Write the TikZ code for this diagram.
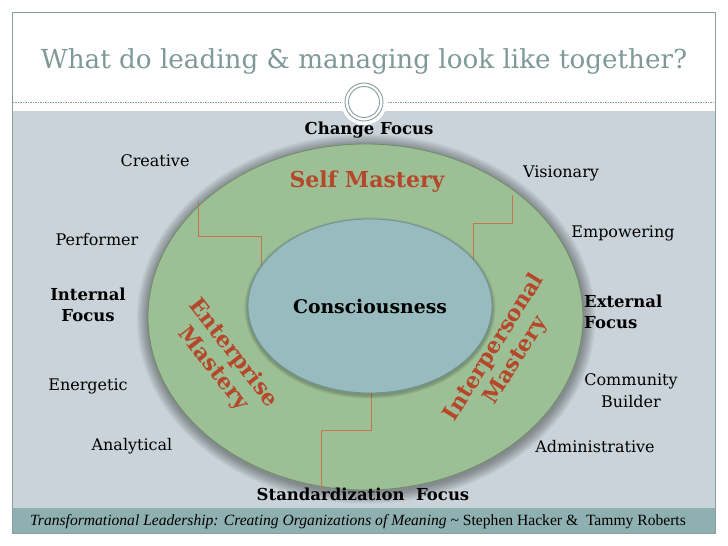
\documentclass[tikz,border=0pt]{standalone}
\usepackage{fontspec}
\setmainfont{DejaVu Serif}
\newfontfamily\footfont{Liberation Serif}
\definecolor{bandgray}{HTML}{C9D3D9}
\definecolor{footteal}{HTML}{8FB0B0}
\definecolor{framecol}{HTML}{8A9E9E}
\definecolor{titlecol}{HTML}{7F9997}
\definecolor{ringgreen}{HTML}{9DBF95}
\definecolor{ringedge}{HTML}{6E8C69}
\definecolor{corefill}{HTML}{97BBBF}
\definecolor{coreedge}{HTML}{6F9094}
\definecolor{rust}{HTML}{B5472A}
\definecolor{stepline}{HTML}{C27650}
\tikzset{
  lbl/.style={font=\fontsize{16}{22}\selectfont, text=black, align=center, inner sep=0pt},
  blbl/.style={font=\fontsize{16.5}{21.5}\selectfont\bfseries, text=black, align=center, inner sep=0pt},
  mastery/.style={font=\fontsize{22}{25}\selectfont\bfseries, text=rust, align=center, inner sep=0pt},
  stepl/.style={draw=stepline, line width=0.9pt}
}
\begin{document}
\begin{tikzpicture}[x=1pt,y=-1pt]
\useasboundingbox (0,0) rectangle (728,546);
\fill[white] (0,0) rectangle (728,546);
% bands
\fill[bandgray] (12.5,111) rectangle (715,508);
\fill[footteal] (12.5,508) rectangle (715,533);
\draw[framecol, line width=0.9pt] (12.5,12.5) rectangle (715,533);
\draw[framecol, dash pattern=on 1.5pt off 1pt, line width=0.6pt] (12.5,102) -- (715,102);
% ornament
\fill[white] (364,102) circle (23pt);
\draw[framecol, line width=0.9pt] (364,102) circle (19pt);
\draw[framecol, line width=0.9pt] (364,102) circle (15.5pt);
% title
\node[font=\fontsize{26.2}{30}\selectfont, text=titlecol, inner sep=0pt] (title) at (364,61) {What do leading \& managing look like together?};
% outer ring shadow
\foreach \i in {1,...,9}{
  \fill[black, opacity=0.045] (366,319) ellipse [x radius={217.5pt+\i*1.3pt}, y radius={173pt+\i*1.3pt}];
}
\fill[ringgreen, draw=ringedge, line width=0.8pt] (365.5,317) ellipse [x radius=217.5pt, y radius=173pt];
% steps
\draw[stepl] (198,201) -- (198,236) -- (261,236) -- (261,266);
\draw[stepl] (512,195) -- (512,223) -- (473,223) -- (473,267);
\draw[stepl] (371,392) -- (371,430) -- (321,430) -- (321,490);
% inner shadow
\foreach \i in {1,...,4}{
  \fill[black, opacity=0.06] (370,308) ellipse [x radius={122pt+\i*0.9pt}, y radius={87pt+\i*0.9pt}];
}
\fill[corefill, draw=coreedge, line width=0.8pt] (370,306) ellipse [x radius=122pt, y radius=87pt];
% center labels
\node[font=\fontsize{18.8}{22}\selectfont\bfseries, inner sep=0pt] (core) at (370,306) {Consciousness};
\node[mastery] (self) at (367,182) {Self Mastery};
\node[mastery, rotate=-52] (ent) at (223,361) {Enterprise\\Mastery};
\node[mastery, rotate=58] (inter) at (505,354) {Interpersonal\\Mastery};
% focus labels
\node[blbl] (change) at (369,130) {Change Focus};
\node[blbl] (std) at (363,494) {Standardization\ \ Focus};
\node[blbl] (internal) at (88,305) {Internal\\Focus};
\node[blbl, align=left, anchor=west] (external) at (584,312) {External\\Focus};
% trait labels
\node[lbl] (creative) at (155,161) {Creative};
\node[lbl] (performer) at (97,240) {Performer};
\node[lbl] (energetic) at (88,386) {Energetic};
\node[lbl] (analytical) at (132,446) {Analytical};
\node[lbl] (visionary) at (561,173) {Visionary};
\node[lbl] (empowering) at (623,233) {Empowering};
\node[lbl] (community) at (631,391) {Community\\Builder};
\node[lbl] (admin) at (595,447) {Administrative};
% footer
\node[font=\footfont\fontsize{15.6}{17}\selectfont, inner sep=0pt] (foot) at (358,522) {\textit{Transformational Leadership: Creating Organizations of Meaning} \textasciitilde\ Stephen Hacker \& \ Tammy Roberts};
\end{tikzpicture}
\end{document}
